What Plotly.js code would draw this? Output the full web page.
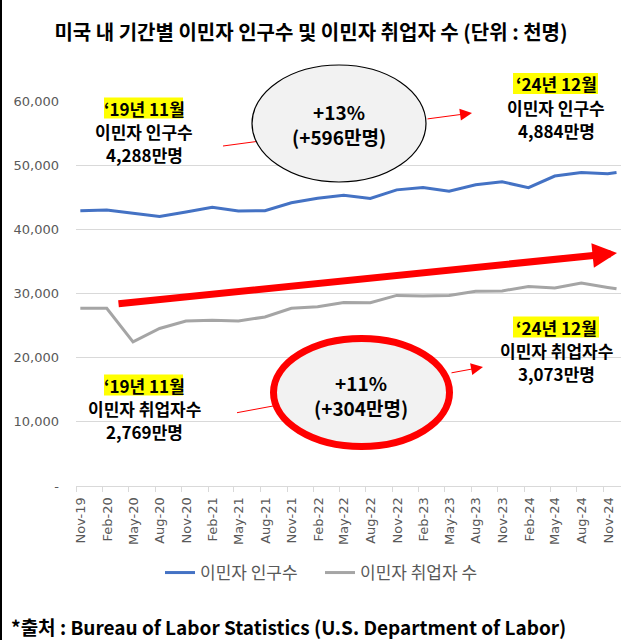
<!DOCTYPE html>
<html>
<head>
<meta charset="utf-8">
<script src="https://cdn.plot.ly/plotly-3.0.1.min.js"></script>
<style>
  html, body { margin: 0; padding: 0; background: #fff; }
  #wrap { position: relative; width: 640px; height: 640px; }
  #chart { width: 640px; height: 640px; }
  #edge { position: absolute; left: 0; top: 0; width: 2px; height: 640px; background: #000; }
</style>
</head>
<body>
<div id="wrap"><div id="chart"></div><div id="edge"></div></div>
<script>
// ---- data ----
const months = ['2019-11','2020-02','2020-05','2020-08','2020-11','2021-02','2021-05','2021-08',
                '2021-11','2022-02','2022-05','2022-08','2022-11','2023-02','2023-05','2023-08',
                '2023-11','2024-02','2024-05','2024-08','2024-11','2024-12'];
const immigrantPopulation = [42880, 43000, 42500, 42000, 42700, 43450, 42850, 42900,
                             44150, 44850, 45300, 44800, 46150, 46500, 45950, 46950,
                             47400, 46500, 48300, 48850, 48650, 48840];
const immigrantEmployed = [27690, 27700, 22450, 24550, 25700, 25850, 25700, 26350,
                           27700, 27950, 28600, 28550, 29700, 29600, 29700, 30350,
                           30400, 31100, 30850, 31650, 30950, 30730];
const seriesNames = ['이민자 인구수', '이민자 취업자 수'];
const yTickVals = [0, 10000, 20000, 30000, 40000, 50000, 60000];
const yTickText = ['-', '10,000', '20,000', '30,000', '40,000', '50,000', '60,000'];

// ---- layout helpers (pixel -> paper) ----
const L = 76, R = 621, T = 101, B = 486;
const px = x => (x - L) / (R - L);
const py = y => (B - y) / (B - T);

const KR = 'Noto Sans CJK KR';
const tickFont = { family: 'DejaVu Sans', size: 13, color: '#595959' };
const noteFont = { family: KR, size: 17, weight: 700, color: '#000' };
const GAP = 23.4;

function label(x, y, text, extra) {
  return Object.assign({ xref: 'paper', yref: 'paper', x: px(x), y: py(y), text: text,
    showarrow: false, xanchor: 'center', yanchor: 'middle', font: noteFont, borderpad: 0 }, extra || {});
}
function block(x, yMid, lines) {
  return lines.map((t, i) => label(x, yMid + (i - 1) * GAP, t));
}
function arrow(hx, hy, tx, ty, w, size) {
  return { xref: 'paper', yref: 'paper', x: px(hx), y: py(hy), ax: tx - hx, ay: ty - hy,
    text: '', showarrow: true, arrowhead: 2, arrowsize: size, arrowwidth: w, arrowcolor: '#FF0000',
    standoff: 0, startstandoff: 0 };
}
function highlight(x0, x1, yMid) {
  return { type: 'rect', xref: 'paper', yref: 'paper', x0: px(x0), x1: px(x1),
    y0: py(yMid - GAP + 10.5), y1: py(yMid - GAP - 10.5),
    fillcolor: '#FFFF00', line: { width: 0 }, layer: 'above' };
}

const traces = [
  { x: months, y: immigrantPopulation, name: seriesNames[0], type: 'scatter', mode: 'lines',
    xperiod: 'M1', xperiodalignment: 'middle',
    line: { color: '#4472C4', width: 3 } },
  { x: months, y: immigrantEmployed, name: seriesNames[1], type: 'scatter', mode: 'lines',
    xperiod: 'M1', xperiodalignment: 'middle',
    line: { color: '#A5A5A5', width: 3 } }
];

const layout = {
  width: 640, height: 640,
  margin: { l: L, r: 640 - R, t: T, b: 640 - B },
  paper_bgcolor: '#fff', plot_bgcolor: '#fff',
  title: { text: '미국 내 기간별 이민자 인구수 및 이민자 취업자 수 (단위 : 천명)',
    xref: 'container', yref: 'container', x: 311 / 640, y: 1 - 33 / 640,
    xanchor: 'center', yanchor: 'middle',
    font: { family: KR, size: 20, weight: 700, color: '#000' } },
  xaxis: { type: 'date', range: ['2019-11-01', '2025-01-01'], tick0: '2019-11-01', dtick: 'M3',
    tickformat: '%b-%y', tickangle: -90, ticks: 'outside', ticklen: 5, tickcolor: '#D9D9D9',
    showline: true, linecolor: '#D9D9D9', linewidth: 1, showgrid: false, zeroline: false,
    tickfont: tickFont, ticklabelshift: 5, fixedrange: true },
  yaxis: { range: [0, 60000], tickvals: yTickVals, ticktext: yTickText, showgrid: true,
    gridcolor: '#D9D9D9', gridwidth: 1, zeroline: false, showline: false, ticks: '',
    tickfont: tickFont, ticklabelstandoff: 16, fixedrange: true },
  showlegend: true,
  legend: { orientation: 'h', xref: 'container', yref: 'container', x: 320 / 640, y: 1 - 573 / 640,
    xanchor: 'center', yanchor: 'middle', font: { family: KR, size: 17, color: '#595959' },
    entrywidth: 115, entrywidthmode: 'pixels', bgcolor: 'rgba(0,0,0,0)' },
  shapes: [
    { type: 'line', xref: 'paper', yref: 'paper', x0: px(223), y0: py(146), x1: px(320), y1: py(133),
      line: { color: '#FF0000', width: 1 }, layer: 'above' },
    { type: 'line', xref: 'paper', yref: 'paper', x0: px(237), y0: py(412.7), x1: px(330), y1: py(395.4),
      line: { color: '#FF0000', width: 1 }, layer: 'above' },
    { type: 'circle', xref: 'paper', yref: 'paper', x0: px(252), x1: px(426), y0: py(182), y1: py(65),
      fillcolor: '#F2F2F2', line: { color: '#000', width: 1.2 }, layer: 'above' },
    { type: 'circle', xref: 'paper', yref: 'paper', x0: px(273.5), x1: px(449.5), y0: py(446.5), y1: py(338.5),
      fillcolor: '#F2F2F2', line: { color: '#FF0000', width: 7 }, layer: 'above' },
    highlight(104, 183, 131.5),
    highlight(513, 598, 107),
    highlight(104, 183, 408.5),
    highlight(513, 599, 350.5)
  ],
  annotations: [
    arrow(472, 113, 426, 119.1, 1, 2.4),
    arrow(483, 367, 450, 373.1, 1, 2.4),
    arrow(617, 253, 117, 304, 7, 0.7),
    ...block(144, 131.5, ['‘19년 11월', '이민자 인구수', '4,288만명']),
    ...block(556, 107, ['‘24년 12월', '이민자 인구수', '4,884만명']),
    ...block(144, 408.5, ['‘19년 11월', '이민자 취업자수', '2,769만명']),
    ...block(556, 350.5, ['‘24년 12월', '이민자 취업자수', '3,073만명']),
    label(339, 124.5, '+13%<br>(+596만명)', { font: { family: KR, size: 19, weight: 700, color: '#000' } }),
    label(361, 394.5, '+11%<br>(+304만명)', { font: { family: KR, size: 19, weight: 700, color: '#000' } }),
    label(10, 626, '*출처 : Bureau of Labor Statistics (U.S. Department of Labor)',
      { xanchor: 'left', font: { family: KR, size: 19, weight: 700, color: '#000' } })
  ]
};

Plotly.newPlot('chart', traces, layout, { displayModeBar: false, staticPlot: true });
</script>
</body>
</html>
